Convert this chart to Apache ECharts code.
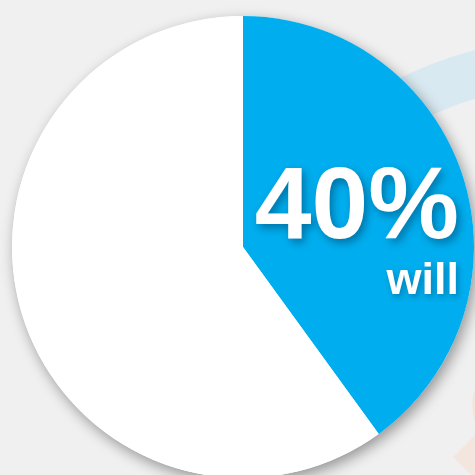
<!DOCTYPE html>
<html>
<head>
<meta charset="utf-8">
<style>
  html, body { margin: 0; padding: 0; background: #f0f0f0; }
  #chart { width: 475px; height: 475px; }
</style>
<script src="https://cdn.jsdelivr.net/npm/echarts@6/dist/echarts.min.js"></script>
</head>
<body>
<div id="chart"></div>
<script>
// ---- data ----
const categories = ['will', 'will not'];
const values = [40, 60];
const sliceColors = ['#00aeef', '#ffffff'];
const highlightLabel = 'will';

const chart = echarts.init(document.getElementById('chart'), null, { renderer: 'canvas' });

const total = values.reduce((a, b) => a + b, 0);

const option = {
  backgroundColor: '#f0f0f0',
  animation: false,
  graphic: [
    { // faint decorative ring behind the pie
      type: 'arc', z: -10, silent: true,
      shape: { cx: 572, cy: 422, r: 361, startAngle: Math.PI * 1.0, endAngle: Math.PI * 1.5 },
      style: { stroke: '#d9e9f1', lineWidth: 47, fill: null }
    },
    { // faint peach circle edge
      type: 'circle', z: -10, silent: true,
      shape: { cx: 520, cy: 405, r: 48 },
      style: { fill: '#f3e6de' }
    },
    { // faint peach diamond
      type: 'polygon', z: -10, silent: true,
      shape: { points: [[453, 457], [490, 420], [527, 457], [490, 494]] },
      style: { fill: '#f3e6de' }
    }
  ],
  series: [
    { // shadow disc
      type: 'pie',
      silent: true,
      z: 1,
      center: [243, 247],
      radius: 231,
      label: { show: false },
      labelLine: { show: false },
      data: [{ value: total, name: '' }],
      itemStyle: {
        color: '#ffffff',
        shadowBlur: 14,
        shadowColor: 'rgba(0,0,0,0.38)',
        shadowOffsetX: 3,
        shadowOffsetY: 5
      },
      emphasis: { disabled: true }
    },
    {
      type: 'pie',
      z: 2,
      center: [243, 247],
      radius: 231,
      startAngle: 90,
      clockwise: true,
      emphasis: { disabled: true },
      labelLine: { show: false },
      data: categories.map((c, i) => ({
        name: c,
        value: values[i],
        itemStyle: { color: sliceColors[i] },
        label: { show: c === highlightLabel }
      })),
      label: {
        position: 'inside',
        formatter: p => '{big|' + Math.round(p.value / total * 100) + '%}\n{small|' + p.name + '}',
        align: 'right',
        rich: {
          big: {
            fontFamily: 'Liberation Sans, Arial, sans-serif',
            fontWeight: 'bold',
            fontSize: 102,
            color: '#ffffff',
            align: 'right',
            lineHeight: 92,
            textShadowColor: 'rgba(0,40,70,0.45)',
            textShadowBlur: 8,
            textShadowOffsetX: 3,
            textShadowOffsetY: 4
          },
          small: {
            fontFamily: 'Liberation Sans, Arial, sans-serif',
            fontWeight: 'bold',
            fontSize: 45,
            color: '#ffffff',
            align: 'right',
            lineHeight: 52,
            textShadowColor: 'rgba(0,40,70,0.35)',
            textShadowBlur: 6,
            textShadowOffsetX: 2,
            textShadowOffsetY: 3
          }
        }
      },
      labelLayout: { x: 459, y: 236, align: 'right', verticalAlign: 'middle' },
      itemStyle: { borderWidth: 0 }
    }
  ]
};

chart.setOption(option);
</script>
</body>
</html>
